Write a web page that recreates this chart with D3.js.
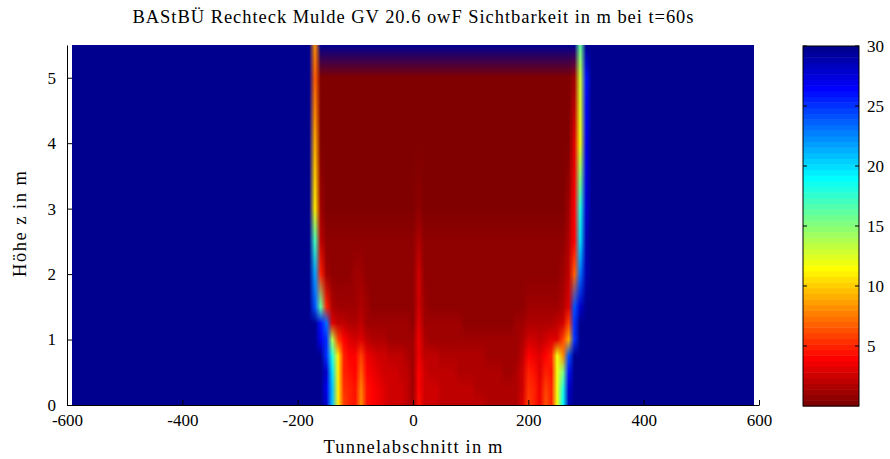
<!DOCTYPE html>
<html>
<head>
<meta charset="utf-8">
<script src="https://cdn.jsdelivr.net/npm/d3@7"></script>
<style>
  body { margin: 0; background: #fff; }
  svg { display: block; }
  text { font-family: "Liberation Serif", serif; fill: #000; }
</style>
</head>
<body>
<svg width="890" height="459"></svg>
<script>
const titleText = 'BAStBÜ Rechteck Mulde GV 20.6 owF Sichtbarkeit in m bei t=60s';
const xLabelText = 'Tunnelabschnitt in m';
const zLabelText = 'Höhe z in m';

const xTicks = [-600, -400, -200, 0, 200, 400, 600];
const zTicks = [0, 1, 2, 3, 4, 5];
const cTicks = [5, 10, 15, 20, 25, 30];

// visibility outside the smoke region (m)
const ambient = 30;
const imageExtentX = [-591, 591];

// grid positions of the smoke region (m)
const xCols = [-190, -180, -170, -160, -150, -140, -130, -120, -110, -100,
  -90, -80, -70, -60, -50, -40, -30, -20, -10, 0,
  10, 20, 30, 40, 50, 60, 70, 80, 90, 100,
  110, 120, 130, 140, 150, 160, 170, 180, 190, 200,
  210, 220, 230, 240, 250, 260, 270, 280, 290, 300, 310];
const zRows = [0, 0.25, 0.5, 0.75, 1, 1.25, 1.5, 2, 2.5, 3, 4, 5, 5.5];

// visibility in m, one row per height in zRows, one value per xCols entry
const vis_z000 = [30, 30, 30, 30, 28, 21, 11, 6, 5, 4.5, 8, 4.5, 4, 3.5, 3, 2.8, 2.8, 2.6, 2.2, 1, 4.5, 2.8, 2.6, 2.5, 2.3, 2.2, 2.2, 2.1, 2, 2, 1.9, 1.9, 1.8, 1.8, 1.7, 1.6, 1.6, 1.8, 3, 6, 5, 3.5, 6.5, 5, 12, 19, 29, 30, 30, 30, 30];
const vis_z025 = [30, 30, 30, 30, 27, 21, 11, 5.5, 4.8, 4.3, 7.5, 4.3, 3.8, 3.3, 2.9, 2.7, 2.7, 2.5, 2.1, 1, 4.2, 2.7, 2.5, 2.4, 2.2, 2.1, 2.1, 2, 1.9, 1.9, 1.8, 1.8, 1.7, 1.7, 1.6, 1.5, 1.5, 1.7, 2.8, 5.5, 4.8, 3.4, 6, 4.8, 12, 18, 28, 30, 30, 30, 30];
const vis_z050 = [30, 30, 30, 30, 28, 20, 11, 5, 4.5, 4, 7, 4, 3.5, 3, 2.7, 2.5, 2.5, 2.3, 2, 1.1, 4, 2.5, 2.3, 2.2, 2, 2, 1.9, 1.8, 1.8, 1.7, 1.7, 1.6, 1.6, 1.5, 1.5, 1.4, 1.4, 1.6, 2.6, 5, 4.5, 3.2, 5, 4.5, 12, 15, 26, 30, 30, 30, 30];
const vis_z075 = [30, 30, 30, 30, 25, 18, 11, 5, 4, 4, 6, 3.5, 3, 2.7, 2.4, 2.2, 2.2, 2, 1.8, 1.2, 3.6, 2.2, 2, 2, 1.8, 1.8, 1.7, 1.6, 1.6, 1.5, 1.5, 1.5, 1.4, 1.4, 1.3, 1.3, 1.3, 1.4, 2, 4, 3.5, 3, 4, 5, 12, 8, 24, 30, 30, 30, 30];
const vis_z100 = [30, 30, 30, 27, 25, 14, 6, 4, 3, 2.5, 3, 2, 1.8, 1.6, 1.5, 1.4, 1.4, 1.3, 1.2, 1, 3.3, 1.5, 1.4, 1.3, 1.2, 1.2, 1.2, 1.1, 1.1, 1.1, 1.1, 1.1, 1, 1, 1, 1, 1, 1.2, 1.6, 2.5, 2.5, 2.2, 2.5, 3, 3, 6, 9, 25, 30, 30, 30];
const vis_z125 = [30, 30, 30, 26, 23, 3, 2.2, 2, 1.6, 1.8, 2, 1.3, 1.2, 1.1, 1, 1, 1, 1, 1, 0.9, 3, 1.2, 1, 1, 1, 1, 1, 1, 0.9, 0.9, 0.9, 0.9, 0.9, 0.9, 0.9, 0.9, 0.9, 1, 1.1, 1.5, 1.5, 1.5, 1.6, 1.8, 2, 2.5, 6, 25, 30, 30, 30];
const vis_z150 = [30, 30, 24, 16, 5, 1.6, 1.4, 1.2, 1.1, 1.4, 1.5, 1, 0.9, 0.8, 0.8, 0.8, 0.8, 0.8, 0.8, 0.8, 2.8, 1, 0.8, 0.8, 0.8, 0.8, 0.8, 0.8, 0.8, 0.8, 0.8, 0.8, 0.8, 0.8, 0.8, 0.8, 0.8, 0.8, 0.8, 1, 1, 1, 1.1, 1.2, 1.3, 1.5, 3, 24, 28, 30, 30];
const vis_z200 = [30, 30, 22, 5, 1.2, 0.9, 0.8, 0.8, 0.8, 1, 1.1, 0.8, 0.7, 0.7, 0.7, 0.7, 0.7, 0.7, 0.7, 0.7, 2.6, 0.8, 0.7, 0.7, 0.7, 0.7, 0.7, 0.7, 0.7, 0.7, 0.7, 0.7, 0.7, 0.7, 0.7, 0.7, 0.7, 0.7, 0.7, 0.7, 0.7, 0.7, 0.8, 0.8, 0.9, 1.1, 2, 7, 23, 29, 30];
const vis_z250 = [30, 30, 17, 2, 0.6, 0.6, 0.6, 0.6, 0.6, 0.7, 0.7, 0.6, 0.6, 0.6, 0.6, 0.6, 0.6, 0.6, 0.6, 0.6, 1.8, 0.6, 0.6, 0.6, 0.6, 0.6, 0.6, 0.6, 0.6, 0.6, 0.6, 0.6, 0.6, 0.6, 0.6, 0.6, 0.6, 0.6, 0.6, 0.6, 0.6, 0.6, 0.6, 0.6, 0.6, 0.7, 1.5, 4, 20, 29, 30];
const vis_z300 = [30, 30, 11, 1, 0.3, 0.3, 0.3, 0.3, 0.3, 0.3, 0.3, 0.3, 0.3, 0.3, 0.3, 0.3, 0.3, 0.3, 0.3, 0.3, 0.5, 0.3, 0.3, 0.3, 0.3, 0.3, 0.3, 0.3, 0.3, 0.3, 0.3, 0.3, 0.3, 0.3, 0.3, 0.3, 0.3, 0.3, 0.3, 0.3, 0.3, 0.3, 0.3, 0.3, 0.3, 0.3, 1, 4, 18, 28, 30];
const vis_z400 = [30, 30, 9, 0.4, 0.2, 0.2, 0.2, 0.2, 0.2, 0.2, 0.2, 0.2, 0.2, 0.2, 0.2, 0.2, 0.2, 0.2, 0.2, 0.2, 0.2, 0.2, 0.2, 0.2, 0.2, 0.2, 0.2, 0.2, 0.2, 0.2, 0.2, 0.2, 0.2, 0.2, 0.2, 0.2, 0.2, 0.2, 0.2, 0.2, 0.2, 0.2, 0.2, 0.2, 0.2, 0.2, 0.4, 3, 12, 27, 30];
const vis_z500 = [30, 30, 7, 0.3, 0.2, 0.2, 0.2, 0.2, 0.2, 0.2, 0.2, 0.2, 0.2, 0.2, 0.2, 0.2, 0.2, 0.2, 0.2, 0.2, 0.2, 0.2, 0.2, 0.2, 0.2, 0.2, 0.2, 0.2, 0.2, 0.2, 0.2, 0.2, 0.2, 0.2, 0.2, 0.2, 0.2, 0.2, 0.2, 0.2, 0.2, 0.2, 0.2, 0.2, 0.2, 0.2, 0.3, 1, 13, 26, 30];
const vis_z550 = [30, 30, 8, 30, 30, 30, 30, 30, 30, 30, 30, 30, 30, 30, 30, 30, 30, 30, 30, 30, 30, 30, 30, 30, 30, 30, 30, 30, 30, 30, 30, 30, 30, 30, 30, 30, 30, 30, 30, 30, 30, 30, 30, 30, 30, 30, 30, 30, 16, 30, 30];

const visRows = [vis_z000, vis_z025, vis_z050, vis_z075, vis_z100, vis_z125,
  vis_z150, vis_z200, vis_z250, vis_z300, vis_z400, vis_z500, vis_z550];

const fontSize = '17px';
const labelSize = '18.5px';
const svg = d3.select('svg');

const x = d3.scaleLinear().domain([-600, 600]).range([67, 759]);
const z = d3.scaleLinear().domain([0, 5.5]).range([405, 45]);
const c = d3.scaleLinear().domain([0, 30]).range([406, 46]);

// MATLAB style jet(64), flipped so that small visibility is dark red
function jet(t) {
  const cl = (v) => Math.max(0, Math.min(1, v));
  return [
    Math.round(255 * cl(1.5 - Math.abs(4 * t - 3))),
    Math.round(255 * cl(1.5 - Math.abs(4 * t - 2))),
    Math.round(255 * cl(1.5 - Math.abs(4 * t - 1)))
  ];
}
function visColor(v) {
  let j = Math.floor((v / 30) * 64) + 1;
  j = Math.max(1, Math.min(64, j));
  return jet((65 - j) / 64);
}

// field image
const ix0 = Math.round(x(imageExtentX[0]));
const ix1 = Math.round(x(imageExtentX[1]));
const iy0 = Math.round(z(5.5));
const iy1 = Math.round(z(0));
const w = ix1 - ix0;
const h = iy1 - iy0;

const canvas = document.createElement('canvas');
canvas.width = w;
canvas.height = h;
const ctx = canvas.getContext('2d');
const img = ctx.createImageData(w, h);

const nodeColors = visRows.map((row) => row.map(visColor));
const ambientColor = visColor(ambient);

for (let j = 0; j < h; j++) {
  const zv = z.invert(iy0 + j + 0.5);
  let r = d3.bisectRight(zRows, zv) - 1;
  r = Math.max(0, Math.min(zRows.length - 2, r));
  const fz = Math.max(0, Math.min(1, (zv - zRows[r]) / (zRows[r + 1] - zRows[r])));
  for (let i = 0; i < w; i++) {
    const xv = x.invert(ix0 + i + 0.5);
    let col;
    if (xv < xCols[0] || xv > xCols[xCols.length - 1]) {
      col = ambientColor;
    } else {
      let k = d3.bisectRight(xCols, xv) - 1;
      k = Math.max(0, Math.min(xCols.length - 2, k));
      const fx = (xv - xCols[k]) / (xCols[k + 1] - xCols[k]);
      const a = nodeColors[r][k], b = nodeColors[r][k + 1];
      const cc = nodeColors[r + 1][k], d = nodeColors[r + 1][k + 1];
      col = [0, 1, 2].map((ch) =>
        (a[ch] * (1 - fx) + b[ch] * fx) * (1 - fz) +
        (cc[ch] * (1 - fx) + d[ch] * fx) * fz);
    }
    const p = (j * w + i) * 4;
    img.data[p] = col[0];
    img.data[p + 1] = col[1];
    img.data[p + 2] = col[2];
    img.data[p + 3] = 255;
  }
}
ctx.putImageData(img, 0, 0);

svg
  .append('image')
  .attr('x', ix0)
  .attr('y', iy0)
  .attr('width', w)
  .attr('height', h)
  .attr('preserveAspectRatio', 'none')
  .attr('href', canvas.toDataURL());

// axes
const xAxis = d3
  .axisBottom(x)
  .tickValues(xTicks)
  .tickFormat((d) => String(d))
  .tickSizeInner(-5)
  .tickSizeOuter(0)
  .tickPadding(9);
const zAxis = d3
  .axisLeft(z)
  .tickValues(zTicks)
  .tickFormat((d) => String(d))
  .tickSizeInner(-5)
  .tickSizeOuter(0)
  .tickPadding(11);

const gx = svg.append('g').attr('transform', 'translate(0,405)').call(xAxis);
const gz = svg.append('g').attr('transform', 'translate(67,0)').call(zAxis);

[gx, gz].forEach((g) => {
  g.selectAll('text').style('font-size', fontSize).style('font-family', '"Liberation Serif", serif');
  g.select('.domain').attr('stroke', '#000');
  g.selectAll('line').attr('stroke', '#000');
});

// colorbar
const cbX = 803;
const cbW = 56;
const levels = d3.range(64);
svg
  .append('g')
  .selectAll('rect')
  .data(levels)
  .enter()
  .append('rect')
  .attr('x', cbX)
  .attr('width', cbW)
  .attr('y', (d) => c((d + 1) * 30 / 64))
  .attr('height', (d) => c(d * 30 / 64) - c((d + 1) * 30 / 64) + 0.5)
  .attr('fill', (d) => {
    const col = jet((64 - d) / 64);
    return 'rgb(' + col.join(',') + ')';
  });

svg
  .append('rect')
  .attr('x', cbX)
  .attr('y', c(30))
  .attr('width', cbW)
  .attr('height', c(0) - c(30))
  .attr('fill', 'none')
  .attr('stroke', '#000');

const cbTicks = svg.append('g');
cbTicks
  .selectAll('line.l')
  .data(cTicks)
  .enter()
  .append('line')
  .attr('x1', cbX)
  .attr('x2', cbX + 4)
  .attr('y1', (d) => c(d))
  .attr('y2', (d) => c(d))
  .attr('stroke', '#000');
cbTicks
  .selectAll('line.r')
  .data(cTicks)
  .enter()
  .append('line')
  .attr('x1', cbX + cbW - 4)
  .attr('x2', cbX + cbW)
  .attr('y1', (d) => c(d))
  .attr('y2', (d) => c(d))
  .attr('stroke', '#000');
cbTicks
  .selectAll('text')
  .data(cTicks)
  .enter()
  .append('text')
  .attr('x', cbX + cbW + 8)
  .attr('y', (d) => c(d))
  .attr('dy', '0.35em')
  .style('font-size', fontSize)
  .text((d) => d);

// labels
svg
  .append('text')
  .attr('x', 413)
  .attr('y', 23)
  .attr('text-anchor', 'middle')
  .attr('textLength', 561)
  .attr('lengthAdjust', 'spacing')
  .style('font-size', labelSize)
  .text(titleText);

svg
  .append('text')
  .attr('x', 413)
  .attr('y', 453)
  .attr('text-anchor', 'middle')
  .attr('textLength', 179)
  .attr('lengthAdjust', 'spacing')
  .style('font-size', labelSize)
  .text(xLabelText);

svg
  .append('text')
  .attr('transform', 'translate(26,224) rotate(-90)')
  .attr('text-anchor', 'middle')
  .attr('textLength', 106)
  .attr('lengthAdjust', 'spacing')
  .style('font-size', labelSize)
  .text(zLabelText);
</script>
</body>
</html>
